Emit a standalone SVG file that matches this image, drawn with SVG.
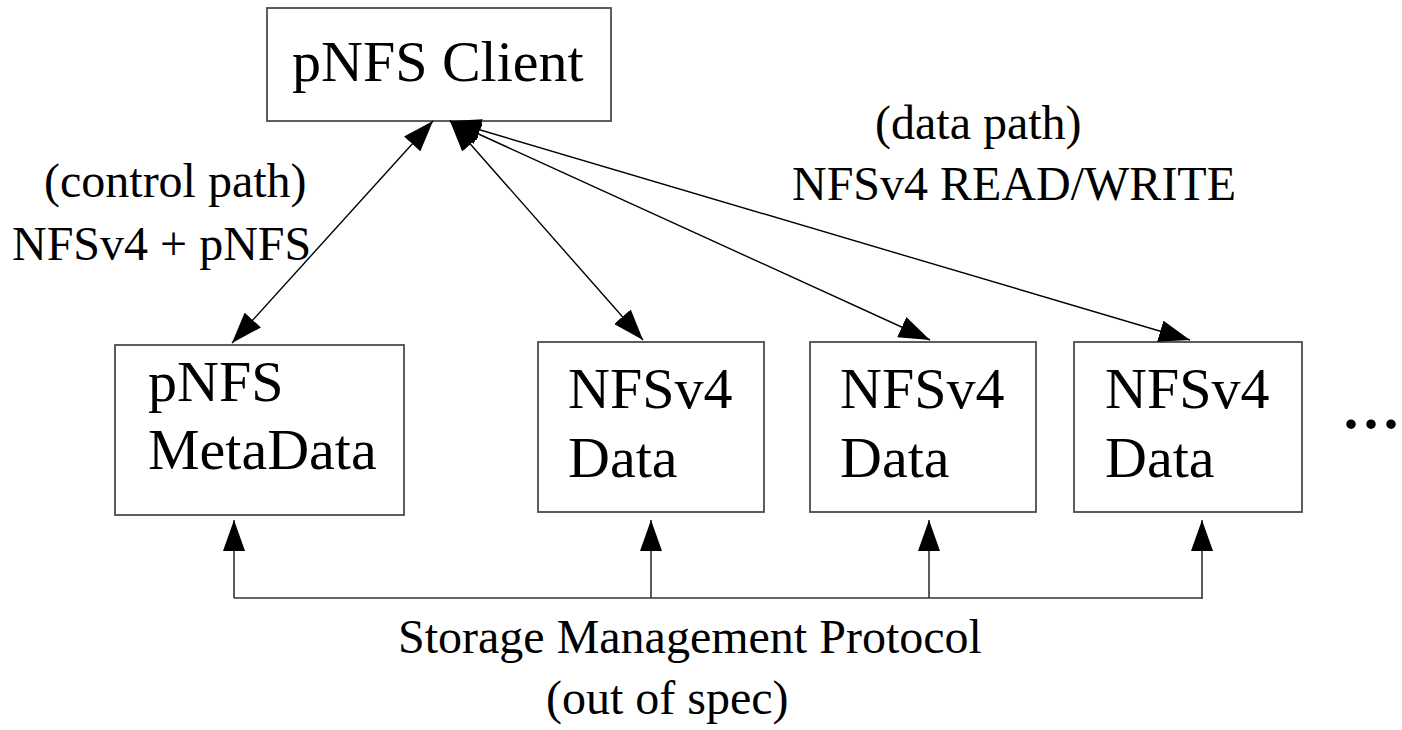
<svg xmlns="http://www.w3.org/2000/svg" width="1402" height="730" viewBox="0 0 1402 730">
  <style>
    .box { fill: #fff; stroke: #4d4d4d; stroke-width: 1.8; }
    .node-text { font-family: "Liberation Serif", "Times New Roman", serif; font-size: 58px; fill: #000; }
    .label { font-family: "Liberation Serif", "Times New Roman", serif; font-size: 48px; fill: #000; }
    .link { fill: none; stroke: #000; stroke-width: 1.4; }
    .bus { fill: none; stroke: #333; stroke-width: 1.6; }
  </style>
  <defs>
    <marker id="head" viewBox="0 0 31 22" refX="31" refY="11" markerWidth="31" markerHeight="22" markerUnits="userSpaceOnUse" orient="auto-start-reverse">
      <path d="M0,0 L31,11 L0,22 z" fill="#000"/>
    </marker>
  </defs>

  <rect width="1402" height="730" fill="#fff"/>

  <!-- client -->
  <g id="client">
    <rect class="box" x="267" y="8" width="344" height="113"/>
    <text class="node-text" x="292" y="81">pNFS Client</text>
  </g>

  <!-- metadata server -->
  <g id="metadata">
    <rect class="box" x="115" y="345" width="289" height="170"/>
    <text class="node-text" x="148" y="401">pNFS</text>
    <text class="node-text" x="148" y="469">MetaData</text>
  </g>

  <!-- data servers -->
  <g id="data1">
    <rect class="box" x="538" y="342" width="226" height="170"/>
    <text class="node-text" x="568" y="408">NFSv4</text>
    <text class="node-text" x="568" y="477">Data</text>
  </g>
  <g id="data2">
    <rect class="box" x="810" y="342" width="226" height="170"/>
    <text class="node-text" x="840" y="408">NFSv4</text>
    <text class="node-text" x="840" y="477">Data</text>
  </g>
  <g id="data3">
    <rect class="box" x="1074" y="342" width="228" height="170"/>
    <text class="node-text" x="1105" y="408">NFSv4</text>
    <text class="node-text" x="1105" y="477">Data</text>
  </g>

  <g id="more">
    <text class="node-text" x="1341" y="428" style="font-size:80px">...</text>
  </g>

  <!-- connectors -->
  <g id="connectors">
    <line class="link" x1="433" y1="121" x2="232" y2="343" marker-start="url(#head)" marker-end="url(#head)"/>
    <line class="link" x1="450" y1="121" x2="643" y2="340" marker-start="url(#head)" marker-end="url(#head)"/>
    <line class="link" x1="450" y1="121" x2="930" y2="340" marker-start="url(#head)" marker-end="url(#head)"/>
    <line class="link" x1="450" y1="121" x2="1190" y2="340" marker-start="url(#head)" marker-end="url(#head)"/>

    <path class="bus" d="M234,598 H1202"/>
    <line class="bus" x1="234" y1="598" x2="234" y2="520" marker-end="url(#head)"/>
    <line class="bus" x1="651" y1="598" x2="651" y2="520" marker-end="url(#head)"/>
    <line class="bus" x1="929" y1="598" x2="929" y2="520" marker-end="url(#head)"/>
    <line class="bus" x1="1202" y1="599" x2="1202" y2="520" marker-end="url(#head)"/>
  </g>

  <!-- labels -->
  <g id="labels">
    <text class="label" x="44" y="197">(control path)</text>
    <text class="label" x="12" y="260">NFSv4 + pNFS</text>
    <text class="label" x="875" y="139">(data path)</text>
    <text class="label" x="792" y="200">NFSv4 READ/WRITE</text>
    <text class="label" x="398" y="653">Storage Management Protocol</text>
    <text class="label" x="546" y="714">(out of spec)</text>
  </g>
</svg>
